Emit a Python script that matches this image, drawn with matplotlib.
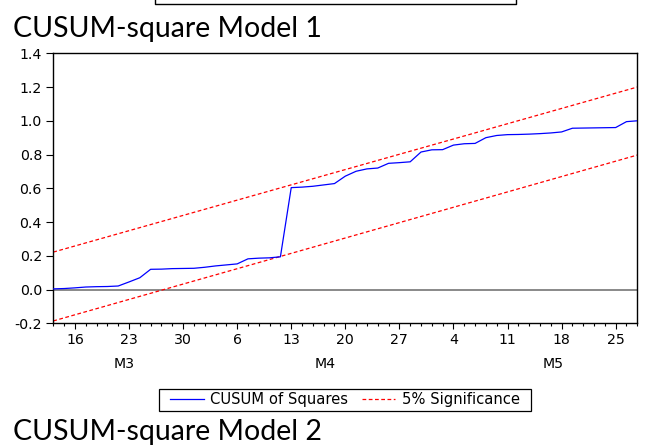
import matplotlib
matplotlib.use("Agg")
import matplotlib.pyplot as plt
import matplotlib.transforms as mtransforms
from matplotlib.lines import Line2D
from matplotlib.patches import Rectangle
import numpy as np

plt.rcParams['axes.unicode_minus'] = False

# Recursive CUSUM of squares, one value per business day (12 Mar - 27 May)
cusum_sq = [0.004, 0.006, 0.010, 0.015, 0.017, 0.018, 0.021, 0.045, 0.070, 0.120,
            0.121, 0.124, 0.125, 0.126, 0.132, 0.140, 0.146, 0.152, 0.182, 0.186,
            0.188, 0.194, 0.604, 0.607, 0.612, 0.620, 0.628, 0.672, 0.701, 0.715,
            0.720, 0.748, 0.752, 0.757, 0.815, 0.828, 0.829, 0.856, 0.864, 0.866,
            0.900, 0.913, 0.918, 0.919, 0.921, 0.924, 0.928, 0.934, 0.956, 0.957,
            0.958, 0.959, 0.960, 0.995, 1.000]

# 5% significance bounds (straight lines: first and last observation)
upper_bound = [0.222, 1.200]
lower_bound = [-0.186, 0.797]

# Axis labelling
monday_idx = [2, 7, 12, 17, 22, 27, 32, 37, 42, 47, 52]
monday_labels = ["16", "23", "30", "6", "13", "20", "27", "4", "11", "18", "25"]
month_labels = ["M3", "M4", "M5"]
month_pos = [6.6, 25.1, 46.2]
y_ticks = [-0.2, 0.0, 0.2, 0.4, 0.6, 0.8, 1.0, 1.2, 1.4]

W, H = 645, 446
fig = plt.figure(figsize=(W / 100, H / 100), dpi=100)
ax = fig.add_axes([53.3 / W, 1 - 323.3 / H, (637.3 - 53.3) / W, (323.3 - 53.3) / H])

n = len(cusum_sq)
x = np.arange(n)
last = n - 1

ax.axhline(0.0, color="#808080", lw=1.3, zorder=1)
line_cs, = ax.plot(x, cusum_sq, color="#0000FF", lw=0.9, zorder=3)
line_sig, = ax.plot([0, last], upper_bound, color="#FF0000", lw=0.9,
                    dashes=(3, 2), zorder=2)
ax.plot([0, last], lower_bound, color="#FF0000", lw=0.9, dashes=(3, 2), zorder=2)

ax.set_xlim(0, last)
ax.set_ylim(-0.2, 1.4)

tick_font = dict(family="DejaVu Sans", size=10.2)
ax.set_yticks(y_ticks)
ax.set_yticklabels([f"{v:.1f}" for v in y_ticks], fontdict=tick_font)
ax.set_xticks(monday_idx)
ax.set_xticklabels(monday_labels, fontdict=tick_font)
ax.set_xticks(x, minor=True)
ax.tick_params(axis="y", direction="out", length=4.8, width=0.8, pad=3.4)
ax.tick_params(axis="x", which="major", direction="out", length=4.5, width=0.8, pad=2.2)
ax.tick_params(axis="x", which="minor", direction="out", length=2.4, width=0.8)
for s in ax.spines.values():
    s.set_linewidth(1.0)
    s.set_color("black")

# Month labels under the day numbers
trans = mtransforms.blended_transform_factory(ax.transData, fig.transFigure)
for lab, pos in zip(month_labels, month_pos):
    ax.text(pos, 1 - 363.5 / H, lab, transform=trans, ha="center", va="center",
            fontdict=tick_font)

# Legend below the plot, with its own rectangular frame
box_l, box_r, box_t, box_b = 159, 531, 389, 410.5
fig.add_artist(Rectangle((box_l / W, 1 - box_b / H), (box_r - box_l) / W,
                         (box_b - box_t) / H, transform=fig.transFigure,
                         facecolor="white", edgecolor="black", lw=0.9, zorder=5))
leg = fig.legend([line_cs, line_sig], ["CUSUM of Squares", "5% Significance"],
                 loc="center", bbox_to_anchor=((box_l + box_r) / 2 / W,
                                               1 - (box_t + box_b) / 2 / H),
                 ncol=2, prop=dict(family="DejaVu Sans", size=10.6),
                 frameon=False, handlelength=2.3, handletextpad=0.45,
                 columnspacing=0.9, borderpad=0.0, borderaxespad=0)
leg.set_zorder(6)

# Bottom edge of the preceding panel's legend
fig.add_artist(Line2D([155 / W, 155 / W, 516 / W, 516 / W],
                      [1.0, 1 - 3.5 / H, 1 - 3.5 / H, 1.0],
                      transform=fig.transFigure, color="black", lw=1.0))

title_font = dict(family="Lato", size=20.5)
fig.text(13 / W, 1 - 29 / H, "CUSUM-square Model 1", ha="left", va="center",
         fontdict=title_font)
fig.text(13 / W, 1 - 432 / H, "CUSUM-square Model 2", ha="left", va="center",
         fontdict=title_font)

fig.savefig("out.png", dpi=100)
